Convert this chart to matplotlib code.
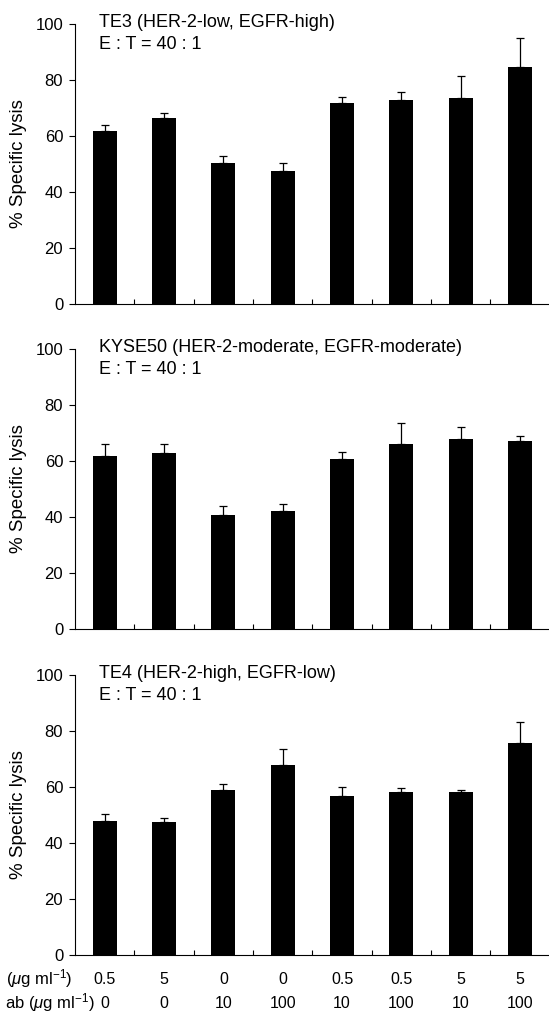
import matplotlib
matplotlib.use('Agg')
import matplotlib.pyplot as plt
import matplotlib.transforms as mtransforms

plt.rcParams['font.family'] = ['Liberation Sans', 'DejaVu Sans']
plt.rcParams['mathtext.fontset'] = 'custom'
plt.rcParams['mathtext.rm'] = 'Liberation Sans'
plt.rcParams['mathtext.it'] = 'Liberation Sans:italic'

# dose rows under the bottom panel
row1_labels = ['0.5', '5', '0', '0', '0.5', '0.5', '5', '5']
row2_labels = ['0', '0', '10', '100', '10', '100', '10', '100']

# % specific lysis (mean) and upper error
te3_mean = [61.9, 66.5, 50.4, 47.6, 71.9, 72.9, 73.7, 84.7]
te3_err = [2.2, 1.6, 2.6, 2.6, 2.2, 2.8, 7.6, 10.2]

kyse50_mean = [61.7, 62.8, 40.6, 42.0, 60.7, 66.0, 67.8, 67.0]
kyse50_err = [4.3, 3.3, 3.3, 2.5, 2.6, 7.7, 4.2, 1.9]

te4_mean = [47.9, 47.5, 59.0, 67.9, 56.8, 58.3, 58.3, 75.8]
te4_err = [2.5, 1.6, 2.1, 5.5, 3.1, 1.5, 0.8, 7.3]

titles = ['TE3 (HER-2-low, EGFR-high)',
          'KYSE50 (HER-2-moderate, EGFR-moderate)',
          'TE4 (HER-2-high, EGFR-low)']
ratio_text = 'E : T = 40 : 1'

W, H = 549, 1014
fig = plt.figure(figsize=(W / 100, H / 100), dpi=100)

panels = [(te3_mean, te3_err), (kyse50_mean, kyse50_err), (te4_mean, te4_err)]
bottoms_px = [304, 629, 955]
left_px, width_px, height_px = 75, 476, 280

axes = []
for i, (mean, err) in enumerate(panels):
    b = bottoms_px[i]
    ax = fig.add_axes([left_px / W, 1 - b / H, width_px / W, height_px / H])
    x = list(range(len(mean)))
    ax.bar(x, mean, width=0.405, color='black')
    ax.errorbar(x, mean, yerr=[[0] * len(err), err], fmt='none',
                ecolor='black', elinewidth=0.9, capsize=3, capthick=0.9)
    ax.set_xlim(-0.5, 7.52)
    ax.set_ylim(0, 100)
    ax.spines['top'].set_visible(False)
    ax.spines['right'].set_visible(False)
    ax.spines['left'].set_linewidth(0.8)
    ax.spines['bottom'].set_linewidth(0.8)
    ax.set_yticks([0, 20, 40, 60, 80, 100])
    ax.tick_params(axis='y', direction='out', length=4, width=0.8,
                   labelsize=12, pad=4.5)
    ax.set_xticks([k + 0.5 for k in range(8)])
    ax.set_xticklabels([])
    ax.tick_params(axis='x', direction='in', length=3.5, width=0.8)
    ax.text(-0.095, 98.8, titles[i], fontsize=13, va='baseline', ha='left')
    ax.text(-0.095, 91.0, ratio_text, fontsize=13, va='baseline', ha='left')
    fig.text(19 / W, 1 - (b - height_px / 2) / H, '% Specific lysis',
             rotation=90, ha='center', va='center', fontsize=13.5)
    axes.append(ax)

ax = axes[-1]
trans = mtransforms.blended_transform_factory(ax.transData, fig.transFigure)
for k in range(8):
    ax.text(k, 1 - 979 / H, row1_labels[k], transform=trans,
            ha='center', va='center', fontsize=11.5)
    ax.text(k, 1 - 1003 / H, row2_labels[k], transform=trans,
            ha='center', va='center', fontsize=11.5)

fig.text(72 / W, 1 - 979 / H, r'($\mu$g ml$^{-1}$)', ha='right', va='center',
         fontsize=12)
fig.text(95 / W, 1 - 1003 / H, r'ab ($\mu$g ml$^{-1}$)', ha='right',
         va='center', fontsize=12)

fig.savefig('out.png', dpi=100)
